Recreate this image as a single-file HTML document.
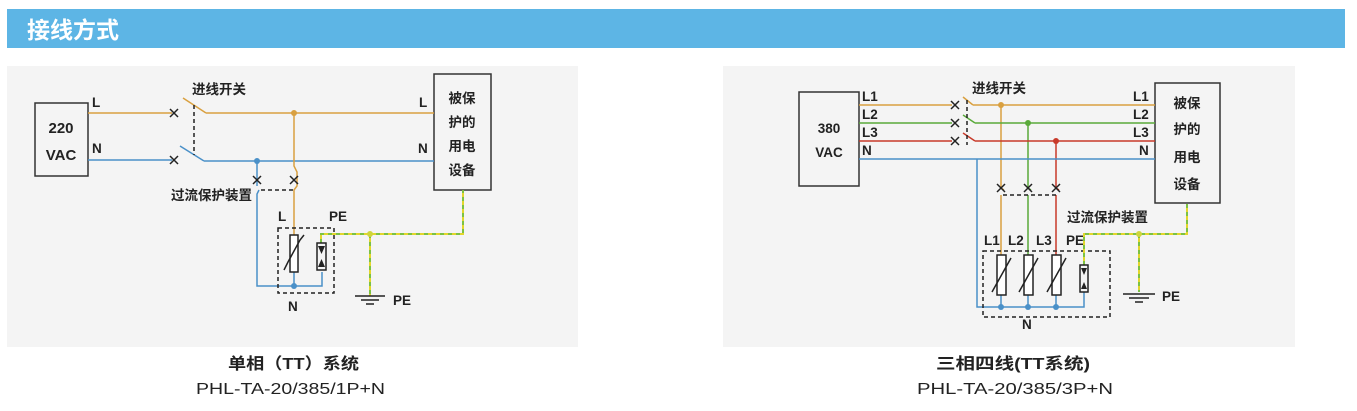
<!DOCTYPE html>
<html><head><meta charset="utf-8"><style>
body{margin:0;background:#fff;width:1357px;height:411px;overflow:hidden;font-family:"Liberation Sans","Noto Sans CJK SC",sans-serif}
svg{position:absolute;left:0;top:0}
</style></head><body>
<svg width="1357" height="411" viewBox="0 0 1357 411" font-family="Liberation Sans, Noto Sans CJK SC, sans-serif">
<rect x="7" y="9" width="1338" height="39" fill="#5db5e5"/>
<text x="27" y="38" font-size="23" fill="#fff" font-weight="bold">接线方式</text>
<rect x="7" y="66" width="571" height="281" fill="#f4f4f4"/>
<rect x="723" y="66" width="572" height="281" fill="#f4f4f4"/>

<g font-weight="bold" font-size="13.5" fill="#222">
<!-- LEFT -->
<rect x="35" y="103" width="53" height="73" fill="none" stroke="#333" stroke-width="1.5"/>
<text x="61" y="133" text-anchor="middle" font-size="15">220</text>
<text x="61" y="160" text-anchor="middle" font-size="15">VAC</text>
<rect x="434" y="74" width="57" height="116" fill="none" stroke="#333" stroke-width="1.5"/>
<text x="462" y="103" text-anchor="middle">被保</text>
<text x="462" y="127" text-anchor="middle">护的</text>
<text x="462" y="151" text-anchor="middle">用电</text>
<text x="462" y="175" text-anchor="middle">设备</text>
<text x="92" y="107">L</text><text x="92" y="153">N</text>
<text x="419" y="107">L</text><text x="418" y="153">N</text>
<text x="192" y="94">进线开关</text>
<text x="171" y="200">过流保护装置</text>
<text x="278" y="221">L</text><text x="329" y="221">PE</text>
<text x="288" y="311">N</text>
<text x="393" y="305">PE</text>

<g fill="none" stroke-width="1.5">
<path d="M88 113H172M206 113H434M183 98L206 113" stroke="#d9a040"/>
<path d="M88 160H172M204 161H434M180 146L204 161" stroke="#4a90c8"/>
<path d="M294 113V166L297 172V186L294 190V235" stroke="#d9a040"/>
<path d="M257 161V186M259 190L257 194V286H322V272" stroke="#4a90c8"/>
<path d="M294 272V286" stroke="#4a90c8"/>
<path d="M194 105V155M261 190H294" stroke="#222" stroke-dasharray="4,3"/>
<rect x="278" y="228" width="56" height="65" stroke="#222" stroke-dasharray="4,3"/>
<path d="M321 243V234H463V190M370 234V296" stroke="#e2d62c" stroke-width="2"/>
<path d="M321 243V234H463V190M370 234V296" stroke="#7cc243" stroke-width="2" stroke-dasharray="4,4"/>
<g stroke="#222">
<path d="M170 109l8 8M178 109l-8 8M170 156l8 8M178 156l-8 8"/>
<path d="M253 176l8 8M261 176l-8 8M290 176l8 8M298 176l-8 8"/>
<rect x="290" y="235" width="8" height="37" fill="#fff"/>
<path d="M284 270L288 262L300 240L304 235"/>
<rect x="317" y="243" width="9" height="27"/>
<path d="M355 296H385M361 300H379M366 304H374"/>
</g>
<path d="M318 246h7l-3.5 8zM318 267h7l-3.5-8z" fill="#222"/>
</g>
<circle cx="294" cy="113" r="3" fill="#d9a040"/>
<circle cx="257" cy="161" r="3" fill="#4a90c8"/>
<circle cx="294" cy="286" r="3" fill="#4a90c8"/>
<circle cx="370" cy="234" r="3" fill="#cfd63c"/>

<!-- RIGHT -->
<rect x="799" y="92" width="60" height="94" fill="none" stroke="#333" stroke-width="1.5"/>
<text x="829" y="133" text-anchor="middle">380</text>
<text x="829" y="157" text-anchor="middle">VAC</text>
<rect x="1155" y="83" width="65" height="120" fill="none" stroke="#333" stroke-width="1.5"/>
<text x="1187" y="108" text-anchor="middle">被保</text>
<text x="1187" y="134" text-anchor="middle">护的</text>
<text x="1187" y="162" text-anchor="middle">用电</text>
<text x="1187" y="189" text-anchor="middle">设备</text>
<text x="862" y="101">L1</text><text x="862" y="119">L2</text><text x="862" y="137">L3</text><text x="862" y="155">N</text>
<text x="1133" y="101">L1</text><text x="1133" y="119">L2</text><text x="1133" y="137">L3</text><text x="1139" y="155">N</text>
<text x="972" y="93">进线开关</text>
<text x="1067" y="222">过流保护装置</text>
<text x="984" y="245">L1</text><text x="1008" y="245">L2</text><text x="1036" y="245">L3</text><text x="1066" y="245">PE</text>
<text x="1022" y="329">N</text>
<text x="1162" y="301">PE</text>

<g fill="none" stroke-width="1.5">
<path d="M859 105H952M973 105H1155M963 97L973 105M1001 105V188L1004 190M1001 195V255" stroke="#d9a040"/>
<path d="M859 123H952M975 123H1155M963 115L975 123M1028 123V188L1031 190M1028 195V255" stroke="#5aaa3a"/>
<path d="M859 141H952M975 141H1155M963 133L975 141M1056 141V188L1059 190M1056 195V255" stroke="#c83a2a"/>
<path d="M859 159H1155M977 159V307H1084V292M1001 295V307M1028 295V307M1056 295V307" stroke="#4a90c8"/>
<path d="M967 100V145M1003 195H1058" stroke="#222" stroke-dasharray="4,3"/>
<rect x="983" y="251" width="127" height="66" stroke="#222" stroke-dasharray="4,3"/>
<path d="M1084 265V234H1187V204M1139 234V292" stroke="#e2d62c" stroke-width="2"/>
<path d="M1084 265V234H1187V204M1139 234V292" stroke="#7cc243" stroke-width="2" stroke-dasharray="4,4"/>
<g stroke="#222">
<path d="M951 101l8 8M959 101l-8 8M951 119l8 8M959 119l-8 8M951 137l8 8M959 137l-8 8"/>
<path d="M997 184l8 8M1005 184l-8 8M1024 184l8 8M1032 184l-8 8M1052 184l8 8M1060 184l-8 8"/>
<rect x="997" y="255" width="9" height="40" fill="#fff"/>
<rect x="1024" y="255" width="9" height="40" fill="#fff"/>
<rect x="1052" y="255" width="9" height="40" fill="#fff"/>
<path d="M992 292L1011 258M1019 292L1038 258M1047 292L1066 258"/>
<rect x="1080" y="265" width="8" height="27"/>
<path d="M1123 294H1155M1129 298H1149M1135 302H1143"/>
</g>
<path d="M1081 268h6l-3 7zM1081 289h6l-3-7z" fill="#222"/>
</g>
<circle cx="1001" cy="105" r="3" fill="#d9a040"/>
<circle cx="1028" cy="123" r="3" fill="#5aaa3a"/>
<circle cx="1056" cy="141" r="3" fill="#c83a2a"/>
<circle cx="1001" cy="307" r="3" fill="#4a90c8"/>
<circle cx="1028" cy="307" r="3" fill="#4a90c8"/>
<circle cx="1056" cy="307" r="3" fill="#4a90c8"/>
<circle cx="1139" cy="234" r="3" fill="#cfd63c"/>
</g>

<g font-size="16" fill="#222">
<text x="228" y="369" font-weight="bold" textLength="131" lengthAdjust="spacingAndGlyphs">单相（TT）系统</text>
<text x="196" y="394" textLength="189" lengthAdjust="spacingAndGlyphs">PHL-TA-20/385/1P+N</text>
<text x="936" y="369" font-weight="bold" textLength="154" lengthAdjust="spacingAndGlyphs">三相四线(TT系统)</text>
<text x="917" y="394" textLength="196" lengthAdjust="spacingAndGlyphs">PHL-TA-20/385/3P+N</text>
</g>
</svg>
</body></html>
